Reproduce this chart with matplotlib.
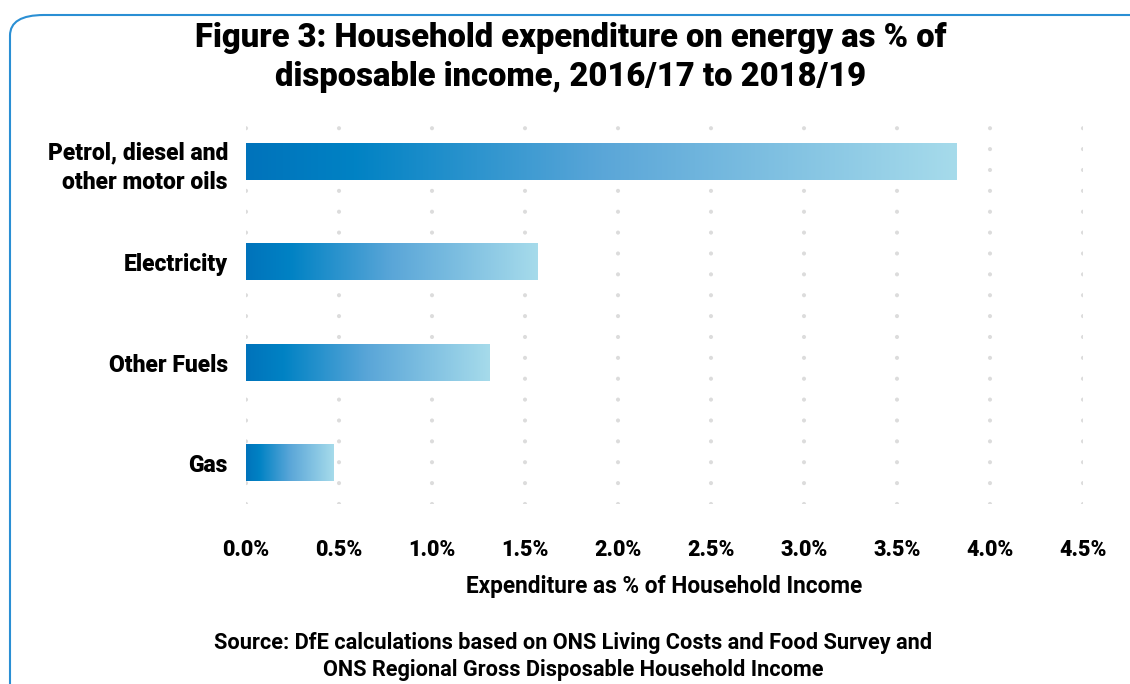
import matplotlib
matplotlib.use("Agg")
import matplotlib.pyplot as plt
import numpy as np
from matplotlib.colors import LinearSegmentedColormap
from matplotlib.patches import FancyBboxPatch

# data
categories = ["Petrol, diesel and\nother motor oils", "Electricity", "Other Fuels", "Gas"]
values = [3.82, 1.565, 1.31, 0.47]
xticks = [0.0, 0.5, 1.0, 1.5, 2.0, 2.5, 3.0, 3.5, 4.0, 4.5]

title = "Figure 3: Household expenditure on energy as % of\ndisposable income, 2016/17 to 2018/19"
xlabel = "Expenditure as % of Household Income"
source = ("Source: DfE calculations based on ONS Living Costs and Food Survey and\n"
          "ONS Regional Gross Disposable Household Income")

plt.rcParams["font.family"] = ["Roboto", "DejaVu Sans"]

fig = plt.figure(figsize=(11.3, 6.84), dpi=100)
ax = fig.add_axes([246 / 1130, (684 - 504) / 684, (1083 - 246) / 1130, (504 - 112) / 684])

# rounded frame around the figure
frame = FancyBboxPatch((10 / 1130, -0.2), 1.2, 1.2 - 15 / 684,
                       boxstyle="round,pad=0,rounding_size=0.03",
                       transform=fig.transFigure, fill=False,
                       edgecolor="#2a8fd4", linewidth=1.5, clip_on=False)
fig.patches.append(frame)

grad = LinearSegmentedColormap.from_list(
    "blues", [(0, "#0073bb"), (0.15, "#0082c4"), (0.5, "#5aa6d8"), (1, "#a6dbeb")])

ypos = np.arange(len(categories))
bars = ax.barh(ypos, values, height=0.36, color="none", edgecolor="none")
gimg = np.linspace(0, 1, 256).reshape(1, -1)
for b in bars:
    ax.imshow(gimg, cmap=grad, aspect="auto", zorder=3,
              extent=[b.get_x(), b.get_x() + b.get_width(),
                      b.get_y() + b.get_height(), b.get_y()])

ax.set_xlim(0, 4.5)
ax.set_ylim(3.41, -0.5)
ax.set_xticks(xticks)
ax.set_xticklabels([f"{t:.1f}%" for t in xticks], fontsize=15.5, fontweight="black")
ax.set_yticks(ypos)
ax.set_yticklabels(categories, fontsize=16.5, fontweight="black", linespacing=1.35)
ax.tick_params(axis="x", length=0, pad=25)
ax.tick_params(axis="y", length=0, pad=13)

for s in ax.spines.values():
    s.set_visible(False)

ax.xaxis.grid(True, color="#dcdcdc", linewidth=3.0, linestyle=(0, (0.01, 5.0)),
              dash_capstyle="round")
ax.set_axisbelow(True)

ax.set_xlabel(xlabel, fontsize=16.3, fontweight="bold", labelpad=10)

fig.text(0.505, 0.968, title, ha="center", va="top", fontsize=23.6,
         fontweight="black", linespacing=1.3)
fig.text(0.507, 0.04, source, ha="center", va="center", fontsize=15.7,
         fontweight="bold", linespacing=1.3)

fig.savefig("out.png", dpi=100)
